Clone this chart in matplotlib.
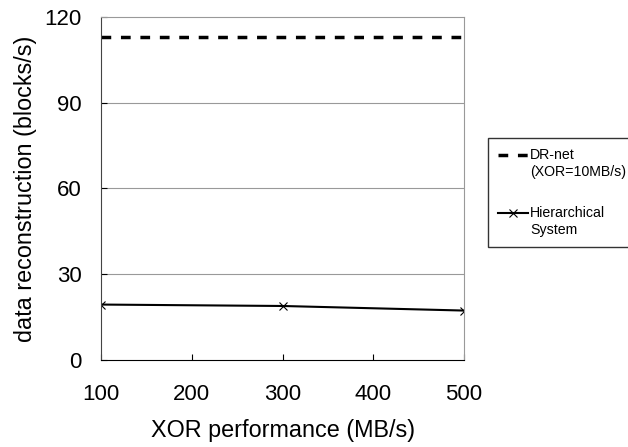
import matplotlib
matplotlib.use("Agg")
from matplotlib import pyplot as plt
from matplotlib.lines import Line2D
import numpy as np

plt.rcParams['font.family'] = ['Liberation Sans', 'DejaVu Sans']

xor_perf = [100, 300, 500]
hierarchical = [19.4, 18.9, 17.3]
dr_net = [113, 113, 113]

fig = plt.figure(figsize=(6.28, 4.47), dpi=100)
ax = fig.add_axes([0.161, 0.1946, 0.578, 0.7674])

# gridlines only at the inner ticks
for yv in [30, 60, 90]:
    ax.axhline(yv, color="#999999", lw=0.8, zorder=0)

ax.plot(xor_perf, dr_net, color="black", lw=2.5, linestyle=(0, (2.8, 2.8)),
        label="DR-net\n(XOR=10MB/s)")
ax.plot(xor_perf, hierarchical, color="black", lw=1.5, marker="x",
        markersize=6, markeredgewidth=0.8, label="Hierarchical\nSystem")

ax.set_xlim(100, 500)
ax.set_ylim(0, 120)
ax.set_xticks([100, 200, 300, 400, 500])
ax.set_yticks([0, 30, 60, 90, 120])
ax.tick_params(direction="in", labelsize=16, length=4)
ax.tick_params(axis="y", pad=14)
ax.tick_params(axis="x", pad=17)
ax.spines["top"].set_color("#999999")
ax.spines["right"].set_color("#999999")
ax.spines["left"].set_color("#444444")
ax.set_xlabel("XOR performance (MB/s)", fontsize=16.8, labelpad=10)
ax.set_ylabel("data reconstruction (blocks/s)", fontsize=16.8, labelpad=5)

leg = fig.legend(loc="upper left", bbox_to_anchor=(0.777, 1 - 138 / 447),
                 borderaxespad=0, fontsize=10.2,
                 frameon=True, fancybox=False, edgecolor="black",
                 handlelength=2.1, labelspacing=1.88, borderpad=0.7,
                 handletextpad=0.16)
leg.get_frame().set_linewidth(1.0)
for t in leg.get_texts():
    t.set_linespacing(1.28)
# put the legend handles level with the first text line
for ln in leg.findobj(Line2D):
    ln.set_ydata(np.asarray(ln.get_ydata(), dtype=float) + 6.5)

fig.savefig("out.png", dpi=100)
